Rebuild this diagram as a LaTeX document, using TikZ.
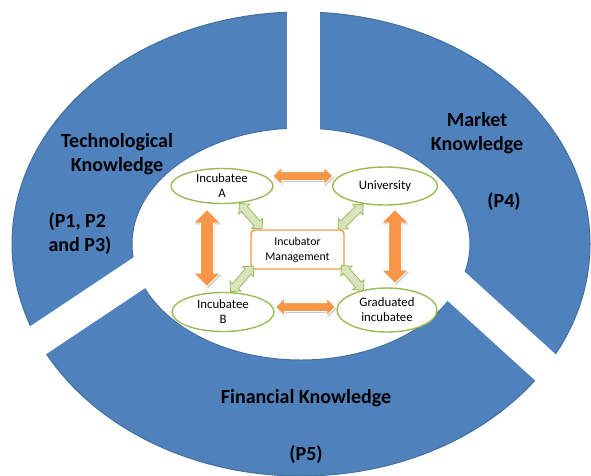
\documentclass[tikz,border=0pt]{standalone}
\usepackage{fontspec}
\setmainfont{Carlito}
\usetikzlibrary{shapes.geometric,shapes.arrows,shadows}

\definecolor{ringblue}{HTML}{4F81BD}
\definecolor{ringedge}{HTML}{41719C}
\definecolor{accentorange}{HTML}{F79646}
\definecolor{leafgreen}{HTML}{9BBB59}
\definecolor{palegreen}{HTML}{D7E4BD}

\begin{document}
\begin{tikzpicture}[x=1pt, y=-1pt,
    party/.style ={ellipse, draw=leafgreen, line width=1.4pt, fill=white, inner sep=0pt, align=center, font=\fontsize{12.8}{15}\selectfont},
    office/.style ={rectangle, rounded corners=4pt, draw=accentorange, line width=1.4pt, fill=white, align=center, minimum width=93pt, minimum height=39pt, font=\fontsize{11.8}{15}\selectfont},
    trade/.style ={double arrow, sloped, fill=accentorange, draw=white, line width=0.8pt, inner xsep=0pt, drop shadow={shadow xshift=1pt, shadow yshift=-1.5pt, fill=black!35, opacity=0.6}},
    bond/.style ={double arrow, sloped, fill=palegreen, draw=leafgreen, line width=0.8pt, inner xsep=0pt, inner ysep=3.5pt, double arrow head extend=3.5pt},
    field/.style ={font=\fontsize{20}{24}\selectfont\bfseries, align=center},
    ringcut/.style ={draw=white, line width=33pt}]
   \useasboundingbox (0,0) rectangle (591,475);

   % knowledge ring
   \filldraw[fill=ringblue, draw=ringedge, line width=1pt] (301,244) ellipse [x radius=289pt, y radius=232pt];
   \filldraw[fill=white, draw=ringedge, line width=1pt] (301,244) ellipse [x radius=169pt, y radius=116pt];
   \draw[ringcut] (303.5,-5) -- (303.5,140);
   \draw[ringcut, line width=32pt] (-5,369) -- (160,259);
   \draw[ringcut] (440,271.6) -- (600,417);

   \node[field] (tech) at (117,154) {Technological\\Knowledge};
   \node[field, align=left, anchor=west] (techp) at (45,234) {(P1, P2\\and P3)};
   \node[field] (market) at (477,133) {Market\\Knowledge};
   \node[field] (marketp) at (504,202) {(P4)};
   \node[field] (finance) at (306,398) {Financial Knowledge};
   \node[field] (financep) at (306,455) {(P5)};

   % actors
   \node[party, minimum width=102pt, minimum height=35pt] (A) at (222,186) {Incubatee\\A};
   \node[party, minimum width=105pt, minimum height=38pt] (U) at (385,186) {University};
   \node[party, minimum width=102pt, minimum height=39pt] (B) at (223,312) {Incubatee\\B};
   \node[party, minimum width=100pt, minimum height=44pt] (G) at (387,310) {Graduated\\incubatee};
   \node[office] (M) at (297.5,249.5) {Incubator\\Management};

   \path ([yshift=10pt]A.east) -- node[trade, inner ysep=4pt, double arrow head extend=4.5pt, minimum height=60pt] {} ([yshift=10pt]U.west);
   \path ([yshift=5pt]B.east) -- node[trade, inner ysep=4pt, double arrow head extend=4.5pt, minimum height=60pt] {} ([yshift=3pt]G.west);
   \path ([xshift=-15pt]A.south) -- node[trade, inner ysep=6pt, double arrow head extend=7pt, minimum height=77pt] {} ([xshift=-16pt]B.north);
   \path ([xshift=10pt]U.south) -- node[trade, inner ysep=6pt, double arrow head extend=7pt, minimum height=74pt] {} ([xshift=8pt]G.north);

   \path (A.-45) -- node[bond, minimum height=34pt] {} ([xshift=12pt]M.north west);
   \path (U.-140) -- node[bond, minimum height=35pt] {} ([xshift=-7pt]M.north east);
   \path ([xshift=3pt,yshift=4pt]M.south west) -- node[bond, minimum height=34pt] {} (B.70);
   \path ([xshift=-3pt,yshift=4pt]M.south east) -- node[bond, minimum height=33pt] {} (G.140);
\end{tikzpicture}
\end{document}
